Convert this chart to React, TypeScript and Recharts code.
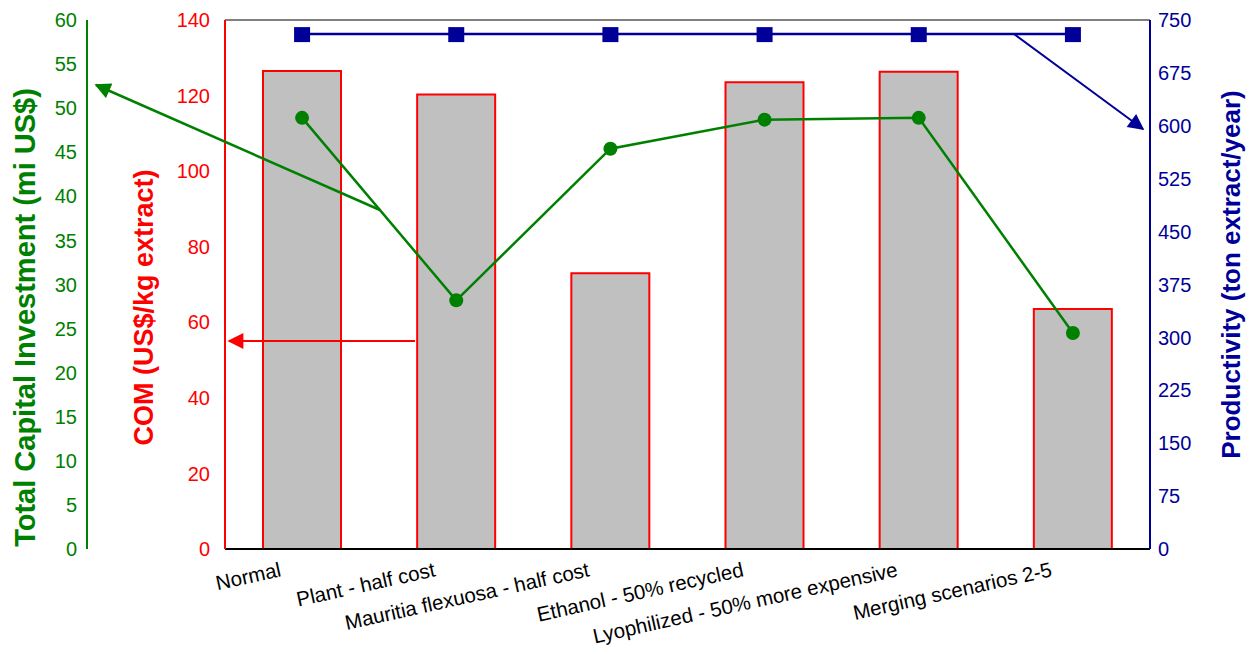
import { ComposedChart, Bar, Line, XAxis, YAxis, ReferenceLine, Label } from 'recharts'

const scenarios = [
  'Normal',
  'Plant - half cost',
  'Mauritia flexuosa - half cost',
  'Ethanol - 50% recycled',
  'Lyophilized - 50% more expensive',
  'Merging scenarios 2-5',
]
const comValues = [126.5, 120.3, 73.0, 123.5, 126.3, 63.5]
const tciValues = [48.9, 28.2, 45.4, 48.7, 48.9, 24.5]
const productivityValues = [730, 730, 730, 730, 730, 730]

const comTicks = [0, 20, 40, 60, 80, 100, 120, 140]
const tciTicks = [0, 5, 10, 15, 20, 25, 30, 35, 40, 45, 50, 55, 60]
const prodTicks = [0, 75, 150, 225, 300, 375, 450, 525, 600, 675, 750]

const data = scenarios.map((name, i) => ({
  name,
  com: comValues[i],
  tci: tciValues[i],
  prod: productivityValues[i],
}))

const FONT = '"Liberation Sans", Arial, sans-serif'
const GREEN = '#008000'
const RED = '#FF0000'
const BLUE = '#000099'

const XTick = (props: any) => {
  const { x, y, payload } = props
  const tx = x - 20
  const ty = y + 19
  return (
    <text
      x={tx}
      y={ty}
      textAnchor="end"
      fontSize={20.5}
      fontFamily={FONT}
      fill="#000"
      transform={`rotate(-12.5, ${tx}, ${ty})`}
    >
      {payload.value}
    </text>
  )
}

const axisTitle = (text: string, color: string, dx: number, dy: number, size: number) => (props: any) => {
  const vb = props.viewBox
  const x = vb.x + dx
  const y = vb.y + vb.height / 2 + dy
  return (
    <text
      x={x}
      y={y}
      textAnchor="middle"
      fontSize={size}
      fontWeight="bold"
      fontFamily={FONT}
      fill={color}
      transform={`rotate(-90, ${x}, ${y})`}
    >
      {text}
    </text>
  )
}

const SquareDot = (props: any) => {
  const { cx, cy } = props
  return <rect x={cx - 8} y={cy - 7} width={16} height={15} fill={BLUE} />
}

// annotation arrows pointing each series to its axis (overlay)
const Arrows = () => (
  <svg width={1255} height={662} style={{ position: 'absolute', left: 0, top: 0, pointerEvents: 'none' }}>
    <defs>
      <marker id="ag" viewBox="0 0 10 10" refX="9" refY="5" markerWidth="18" markerHeight="16" markerUnits="userSpaceOnUse" orient="auto">
        <path d="M0,0 L10,5 L0,10 z" fill={GREEN} />
      </marker>
      <marker id="ar" viewBox="0 0 10 10" refX="9" refY="5" markerWidth="18" markerHeight="16" markerUnits="userSpaceOnUse" orient="auto">
        <path d="M0,0 L10,5 L0,10 z" fill={RED} />
      </marker>
      <marker id="ab" viewBox="0 0 10 10" refX="9" refY="5" markerWidth="18" markerHeight="16" markerUnits="userSpaceOnUse" orient="auto">
        <path d="M0,0 L10,5 L0,10 z" fill={BLUE} />
      </marker>
    </defs>
    <line x1={380} y1={210} x2={96} y2={85} stroke={GREEN} strokeWidth={2.5} markerEnd="url(#ag)" />
    <line x1={415} y1={341} x2={229} y2={341} stroke={RED} strokeWidth={2} markerEnd="url(#ar)" />
    <line x1={1014} y1={34} x2={1143} y2={129} stroke={BLUE} strokeWidth={2} markerEnd="url(#ab)" />
  </svg>
)

export default function App() {
  return (
    <div style={{ position: 'absolute', left: 0, top: 0, width: 1255, height: 662, background: '#fff' }}>
      <ComposedChart width={1255} height={662} data={data} margin={{ top: 20, right: 0, bottom: 0, left: 0 }}>
        <XAxis
          dataKey="name"
          tick={<XTick />}
          tickLine={false}
          axisLine={{ stroke: '#000', strokeWidth: 2 }}
          interval={0}
          height={113}
        />
        <YAxis
          yAxisId="com"
          orientation="left"
          width={138}
          domain={[0, 140]}
          ticks={comTicks}
          tickLine={false}
          tickMargin={9}
          axisLine={{ stroke: RED, strokeWidth: 2 }}
          tick={{ fill: RED, fontSize: 20, fontFamily: FONT }}
        >
          <Label content={axisTitle('COM (US$/kg extract)', RED, 66, 23, 27)} />
        </YAxis>
        <YAxis
          yAxisId="tci"
          orientation="left"
          width={87}
          domain={[0, 60]}
          ticks={tciTicks}
          tickLine={false}
          tickMargin={4}
          axisLine={{ stroke: GREEN, strokeWidth: 2 }}
          tick={{ fill: GREEN, fontSize: 20, fontFamily: FONT }}
        >
          <Label content={axisTitle('Total Capital Investment (mi US$)', GREEN, 35, 33, 29)} />
        </YAxis>
        <YAxis
          yAxisId="prod"
          orientation="right"
          width={105}
          domain={[0, 750]}
          ticks={prodTicks}
          tickLine={false}
          tickMargin={2}
          axisLine={{ stroke: BLUE, strokeWidth: 2 }}
          tick={{ fill: BLUE, fontSize: 20, fontFamily: FONT }}
        >
          <Label content={axisTitle('Productivity (ton extract/year)', BLUE, 90, -10, 26)} />
        </YAxis>
        <ReferenceLine yAxisId="com" y={140} stroke="#808080" strokeWidth={2} />
        <Bar
          yAxisId="com"
          dataKey="com"
          barSize={78}
          fill="#C0C0C0"
          stroke={RED}
          strokeWidth={2}
          isAnimationActive={false}
        />
        <Line
          yAxisId="tci"
          dataKey="tci"
          stroke={GREEN}
          strokeWidth={2.5}
          dot={{ r: 7, fill: GREEN, stroke: 'none' }}
          activeDot={false}
          isAnimationActive={false}
        />
        <Line
          yAxisId="prod"
          dataKey="prod"
          stroke={BLUE}
          strokeWidth={2.5}
          dot={<SquareDot />}
          activeDot={false}
          isAnimationActive={false}
        />
      </ComposedChart>
      <Arrows />
    </div>
  )
}
